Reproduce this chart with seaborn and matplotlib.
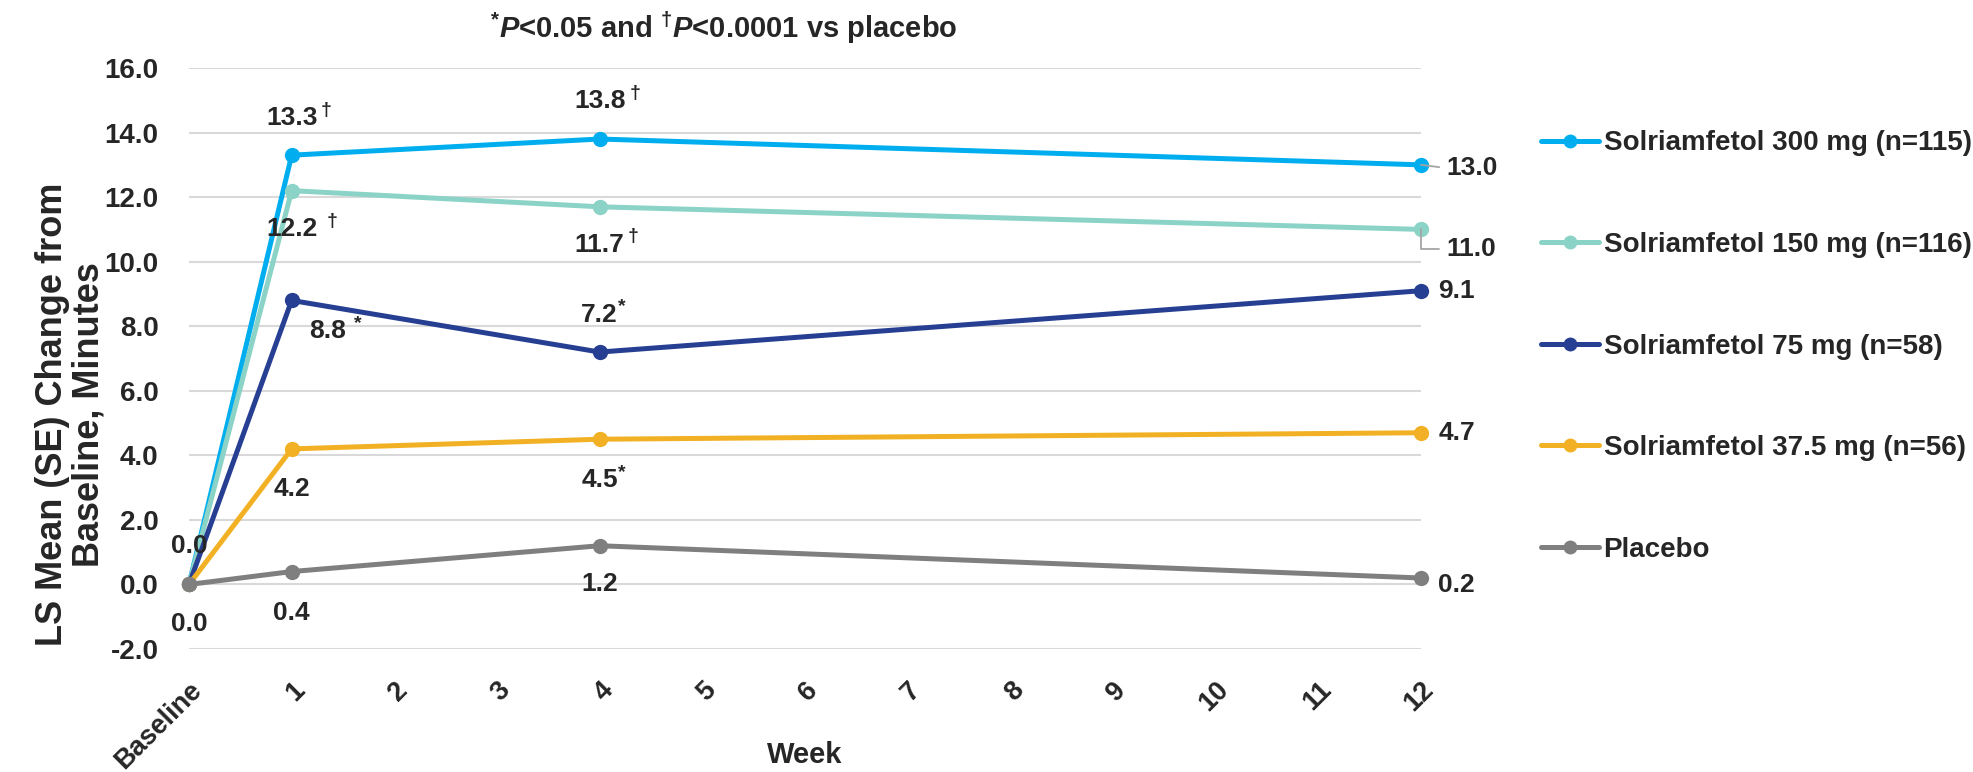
# Import necessary libraries
import matplotlib
matplotlib.use("Agg")
import pandas as pd
import matplotlib.pyplot as plt
from matplotlib.lines import Line2D
import seaborn as sns

# Chart data (LS mean change from baseline, minutes)
weeks = [0, 1, 4, 12]
week_labels = ["Baseline", "1", "2", "3", "4", "5", "6", "7", "8", "9", "10", "11", "12"]
groups = [
    "Solriamfetol 300 mg (n=115)",
    "Solriamfetol 150 mg (n=116)",
    "Solriamfetol 75 mg (n=58)",
    "Solriamfetol 37.5 mg (n=56)",
    "Placebo",
]
mean_300 = [0.0, 13.3, 13.8, 13.0]
mean_150 = [0.0, 12.2, 11.7, 11.0]
mean_75 = [0.0, 8.8, 7.2, 9.1]
mean_37 = [0.0, 4.2, 4.5, 4.7]
mean_placebo = [0.0, 0.4, 1.2, 0.2]

# Significance vs placebo at each visit
sig_300 = ["", "†", "†", ""]
sig_150 = ["", "†", "†", ""]
sig_75 = ["", "*", "*", ""]
sig_37 = ["", "", "*", ""]
sig_placebo = ["", "", "", ""]

y_ticks = [-2, 0, 2, 4, 6, 8, 10, 12, 14, 16]
colors = ["#00AEEF", "#8AD3C6", "#263F92", "#F2B124", "#7F7F7F"]

# Where each value label goes: (dx, dy, ha, superscript gap in pt), None = hidden
label_place = [
    [(0, 1.18, "center", 0), (0, 1.15, "center", 2), (0, 1.18, "center", 3), (0.25, -0.1, "left", 0)],
    [None, (0, -1.2, "center", 7), (0, -1.17, "center", 2), (0.25, -0.6, "left", 0)],
    [None, (0.35, -0.95, "center", 6), (0, 1.16, "center", 0), (0.17, 0, "left", 0)],
    [None, (0, -1.25, "center", 0), (0, -1.26, "center", 0), (0.17, 0, "left", 0)],
    [(0, -1.22, "center", 0), (0, -1.27, "center", 0), (0, -1.2, "center", 0), (0.17, -0.23, "left", 0)],
]
# Series whose week-12 label is tied to its point with a small leader line
leader = {0: "arc3", 1: "angle,angleA=0,angleB=90,rad=0"}

FONT = ["Liberation Sans", "DejaVu Sans"]


def build_frame():
    """Long table for seaborn."""
    series = [mean_300, mean_150, mean_75, mean_37, mean_placebo]
    rows = []
    for g, vals in zip(groups, series):
        for w, v in zip(weeks, vals):
            rows.append({"week": w, "value": v, "group": g})
    return pd.DataFrame(rows)


def add_value_labels(ax):
    series = [mean_300, mean_150, mean_75, mean_37, mean_placebo]
    sigs = [sig_300, sig_150, sig_75, sig_37, sig_placebo]
    for i, (vals, marks) in enumerate(zip(series, sigs)):
        for j, (w, v) in enumerate(zip(weeks, vals)):
            place = label_place[i][j]
            if place is None:
                continue
            dx, dy, ha, gap = place
            text = f"{v:.1f}"
            if j == len(weeks) - 1 and i in leader:
                t = ax.annotate(
                    text, xy=(w, v), xytext=(w + dx, v + dy), textcoords="data",
                    ha=ha, va="center", fontsize=19, annotation_clip=False,
                    arrowprops=dict(arrowstyle="-", color="#A5A5A5", lw=1.3,
                                    shrinkA=3, shrinkB=0, relpos=(0, 0.5),
                                    connectionstyle=leader[i]),
                )
            else:
                t = ax.text(w + dx, v + dy, text, ha=ha, va="center",
                            fontsize=19, clip_on=False, zorder=5)
            if marks[j]:
                ax.annotate(marks[j], xy=(1, 1), xycoords=t, xytext=(gap, 3),
                            textcoords="offset points", ha="left", va="top",
                            fontsize=14, annotation_clip=False)


def main():
    df = build_frame()

    sns.set_style("white")
    plt.rcParams["font.family"] = FONT
    plt.rcParams["font.weight"] = "bold"
    plt.rcParams["mathtext.fontset"] = "custom"
    plt.rcParams["mathtext.rm"] = "Liberation Sans:bold"
    plt.rcParams["mathtext.it"] = "Liberation Sans:italic:bold"

    fig = plt.figure(figsize=(19.73, 7.72), dpi=100)
    ax = fig.add_axes([0.0958, 0.1593, 0.6244, 0.7526])

    sns.lineplot(data=df, x="week", y="value", hue="group", hue_order=groups,
                 palette=colors, marker="o", markersize=11, markeredgewidth=0,
                 linewidth=3.6, legend=False, clip_on=False, ax=ax)

    ax.set_xlim(0, 12)
    ax.set_ylim(-2, 16)
    ax.set_yticks(y_ticks)
    ax.set_yticklabels([f"{t:.1f}" for t in y_ticks], fontsize=20)
    ax.set_xticks(range(len(week_labels)))
    ax.set_xticklabels(week_labels, rotation=45, ha="right",
                       rotation_mode="anchor", fontsize=19.5)
    ax.tick_params(axis="both", length=0)
    ax.tick_params(axis="y", pad=22)
    ax.tick_params(axis="x", pad=20)
    ax.grid(axis="y", color="#D9D9D9", lw=1.5)
    ax.grid(axis="x", visible=False)
    sns.despine(ax=ax, left=True, bottom=True)
    ax.set_xlabel("")
    ax.set_ylabel("")

    add_value_labels(ax)

    # Legend on the right
    handles = [Line2D([], [], color=c, lw=3.6, marker="o", markersize=10,
                      markeredgewidth=0) for c in colors]
    fig.legend(handles, groups, loc="upper left",
               bbox_to_anchor=(1541 / 1973, 0.831), frameon=False, fontsize=20,
               handlelength=2.1, handletextpad=0.15, labelspacing=2.72,
               borderpad=0, borderaxespad=0)

    # Titles
    fig.text(0.367, 0.964,
             r"$^{*}\mathit{P}$<0.05 and $^{†}\mathit{P}$<0.0001 vs placebo",
             ha="center", va="center", fontsize=21)
    fig.text(0.036, 0.463, "LS Mean (SE) Change from\nBaseline, Minutes",
             rotation=90, ha="center", va="center", fontsize=26,
             linespacing=1.05, multialignment="center")
    fig.text(0.408, 0.022, "Week", ha="center", va="center", fontsize=21)

    fig.savefig("out.png", dpi=100)


if __name__ == "__main__":
    main()
